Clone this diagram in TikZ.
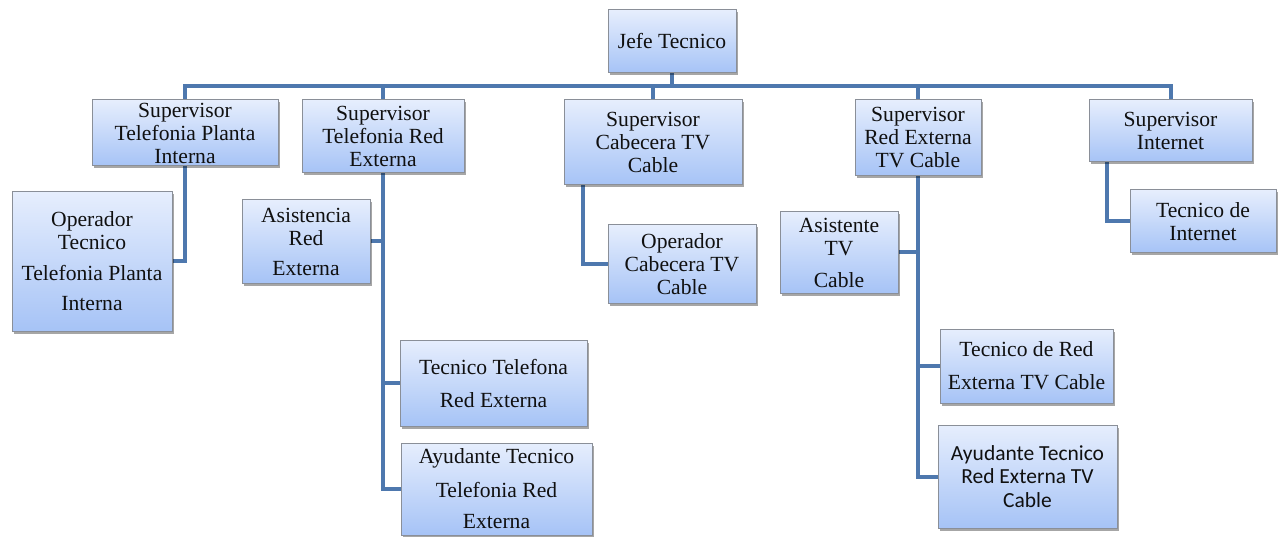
\documentclass[tikz,border=0pt]{standalone}
\usepackage{fontspec}
\setmainfont{Liberation Serif}
\newfontfamily\timesf{Liberation Serif}
\newfontfamily\calib{Carlito}
\usetikzlibrary{shadows,backgrounds}
\definecolor{linec}{HTML}{4E78AE}
\definecolor{boxtop}{HTML}{E6EEFD}
\definecolor{boxbot}{HTML}{A6C3F6}
\definecolor{boxline}{HTML}{8A8F98}
\definecolor{txt}{HTML}{101010}
\tikzset{
  orgbox/.style={draw=boxline, line width=1pt, top color=boxtop, bottom color=boxbot,
    align=center, inner sep=0pt, text=txt,
    font=\timesf\fontsize{21.6}{23}\selectfont,
    drop shadow={shadow xshift=2pt, shadow yshift=-2.5pt, fill=black, opacity=0.35}},
  conn/.style={draw=linec, line width=4pt, line join=miter}
}
\begin{document}
\begin{tikzpicture}[x=1pt,y=-1pt]
\useasboundingbox (0,0) rectangle (1287,537);
% boxes
\node[orgbox, minimum width=128, minimum height=63] (jefe) at (672,41.5) {Jefe Tecnico};
\node[orgbox, minimum width=186, minimum height=66] (s1) at (185,133) {Supervisor\\Telefonia Planta\\Interna};
\node[orgbox, minimum width=162, minimum height=73] (s2) at (383,136.5) {Supervisor\\Telefonia Red\\Externa};
\node[orgbox, minimum width=178, minimum height=85] (s3) at (653,142.5) {Supervisor\\Cabecera TV\\Cable};
\node[orgbox, minimum width=126, minimum height=76] (s4) at (918,138) {Supervisor\\Red Externa\\TV Cable};
\node[orgbox, minimum width=163, minimum height=62] (s5) at (1170.5,131) {Supervisor\\Internet};
\node[orgbox, minimum width=160, minimum height=139] (o1) at (92,261.5) {Operador\\Tecnico\\[8pt]Telefonia Planta\\[7pt]Interna};
\node[orgbox, minimum width=128, minimum height=83] (a2) at (306,241.5) {Asistencia\\Red\\[7pt]Externa};
\node[orgbox, minimum width=187, minimum height=86] (t2) at (493.5,383) {Tecnico Telefona\\[10pt]Red Externa};
\node[orgbox, minimum width=191, minimum height=92] (y2) at (496.5,489) {Ayudante Tecnico\\[11pt]Telefonia Red\\[8pt]Externa};
\node[orgbox, minimum width=148, minimum height=78] (o3) at (682,264) {Operador\\Cabecera TV\\Cable};
\node[orgbox, minimum width=118, minimum height=81] (a4) at (839,252.5) {Asistente\\TV\\[9pt]Cable};
\node[orgbox, minimum width=173, minimum height=74] (t4) at (1026.5,366) {Tecnico de Red\\[10pt]Externa TV Cable};
\node[orgbox, minimum width=179, minimum height=103, font=\calib\fontsize{21.5}{23.5}\selectfont] (y4) at (1027.5,476.5) {Ayudante Tecnico\\Red Externa TV\\Cable};
\node[orgbox, minimum width=146, minimum height=63] (t5) at (1203,221.5) {Tecnico de\\Internet};
% helper coordinates
\coordinate (bus) at (0,86);
\coordinate (s3x) at (583,0);
\coordinate (t5x) at (1107,0);
\begin{scope}[on background layer]
\draw[conn] (jefe.south) -- (jefe.south |- bus);
\draw[conn] (s1.north) -- (s1.north |- bus) -- (s5.north |- bus) -- (s5.north);
\draw[conn] (s2.north) -- (s2.north |- bus);
\draw[conn] (s3.north) -- (s3.north |- bus);
\draw[conn] (s4.north) -- (s4.north |- bus);
\draw[conn] (s1.south) |- (o1.east);
\draw[conn] (s2.south) |- (y2.west);
\draw[conn] (s2.south) |- (a2.east);
\draw[conn] (s2.south) |- (t2.west);
\draw[conn] (s3.south -| s3x) |- (o3.west);
\draw[conn] (s4.south) |- (y4.west);
\draw[conn] (s4.south) |- (a4.east);
\draw[conn] (s4.south) |- (t4.west);
\draw[conn] (s5.south -| t5x) |- (t5.west);
\end{scope}
\end{tikzpicture}
\end{document}
